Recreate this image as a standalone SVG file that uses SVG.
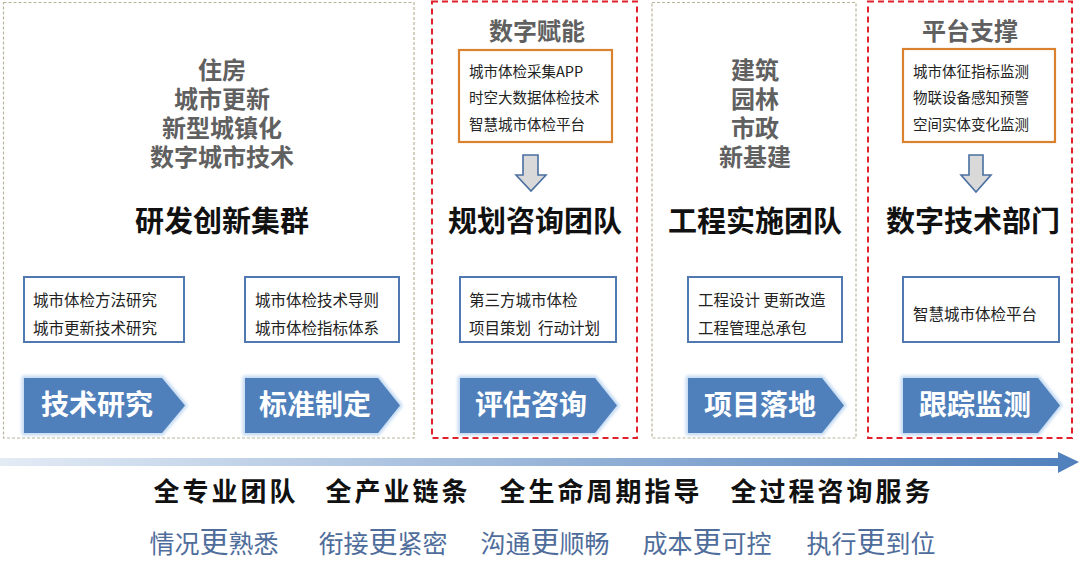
<svg xmlns="http://www.w3.org/2000/svg" width="1080" height="576" viewBox="0 0 1080 576">
<defs>
<style>
text{font-family:"Noto Sans CJK SC","Noto Sans",sans-serif}
.beige{fill:none;stroke:#b9b59a;stroke-width:1.2;stroke-dasharray:3 2}
.red{fill:none;stroke:#e0202a;stroke-width:2;stroke-dasharray:6 4}
.topic{font-size:24px;font-weight:700;fill:#606060;text-anchor:middle}
.head{font-size:29px;font-weight:700;fill:#111;text-anchor:middle}
.bbox{fill:#fff;stroke:#4f79b0;stroke-width:2}
.obox{fill:#fff;stroke:#d9812f;stroke-width:2.2}
.small{font-size:15.5px;fill:#222}
.osmall{font-size:14.5px;fill:#222}
.arr{fill:#4f80bc}
.glow{fill:#a9c8ec;stroke:#c5dbf3;stroke-width:5;stroke-linejoin:round;filter:url(#blur)}
.atext{font-size:28px;font-weight:700;fill:#fff;text-anchor:middle}
.down{fill:#d9d9d9;stroke:#4a6fa0;stroke-width:1.6;stroke-linejoin:miter}
.big{font-size:26px;font-weight:700;fill:#111;text-anchor:middle;letter-spacing:3px}
.blue{font-size:25px;fill:#4f6d9b;text-anchor:middle}
.blue .g{font-size:29px}
</style>
<filter id="blur" x="-10%" y="-20%" width="120%" height="140%"><feGaussianBlur stdDeviation="1.8"/></filter>
<linearGradient id="grad" x1="0" y1="0" x2="1" y2="0">
<stop offset="0" stop-color="#e3ebf5"/>
<stop offset="1" stop-color="#4f80bc"/>
</linearGradient>
</defs>
<rect width="1080" height="576" fill="#fff"/>

<g id="panel-rd">
<rect class="beige" x="3.5" y="2.5" width="410.5" height="435.5"/>
<text class="topic"><tspan x="222" y="79">住房</tspan><tspan x="222" y="108">城市更新</tspan><tspan x="222" y="137">新型城镇化</tspan><tspan x="222" y="166">数字城市技术</tspan></text>
<text class="head" x="222" y="232">研发创新集群</text>
<g id="box-research">
<rect class="bbox" x="24" y="277" width="160" height="65"/>
<text class="small" x="33" y="306">城市体检方法研究</text>
<text class="small" x="33" y="334">城市更新技术研究</text>
</g>
<g id="box-standard">
<rect class="bbox" x="245" y="277" width="154" height="65"/>
<text class="small" x="255" y="306">城市体检技术导则</text>
<text class="small" x="255" y="334">城市体检指标体系</text>
</g>
<g id="step-research">
<path class="glow" d="M24,378 H162 L185,405.5 L162,433 H24 Z"/>
<path class="arr" d="M24,378 H162 L185,405.5 L162,433 H24 Z"/>
<text class="atext" x="97" y="415">技术研究</text>
</g>
<g id="step-standard">
<path class="glow" d="M245,378 H378 L400,405.5 L378,433 H245 Z"/>
<path class="arr" d="M245,378 H378 L400,405.5 L378,433 H245 Z"/>
<text class="atext" x="315" y="415">标准制定</text>
</g>
</g>

<g id="panel-planning">
<rect class="red" x="432" y="1.5" width="205" height="436.5"/>
<text class="topic" x="537" y="40">数字赋能</text>
<rect class="obox" x="459" y="50" width="153" height="92"/>
<text class="osmall" x="469" y="77">城市体检采集APP</text>
<text class="osmall" x="469" y="103">时空大数据体检技术</text>
<text class="osmall" x="469" y="130">智慧城市体检平台</text>
<path class="down" d="M523,155 H538 V175 H546 L531,191 L516,175 H523 Z"/>
<text class="head" x="535" y="232">规划咨询团队</text>
<g id="box-assess">
<rect class="bbox" x="460" y="277" width="156" height="65"/>
<text class="small" x="469" y="306">第三方城市体检</text>
<text class="small" x="469" y="334" xml:space="preserve">项目策划  行动计划</text>
</g>
<g id="step-assess">
<path class="glow" d="M460,378 H595 L617,405.5 L595,433 H460 Z"/>
<path class="arr" d="M460,378 H595 L617,405.5 L595,433 H460 Z"/>
<text class="atext" x="531" y="415">评估咨询</text>
</g>
</g>

<g id="panel-engineering">
<rect class="beige" x="652" y="2.5" width="204" height="435.5"/>
<text class="topic"><tspan x="755" y="79">建筑</tspan><tspan x="755" y="108">园林</tspan><tspan x="755" y="137">市政</tspan><tspan x="755" y="166">新基建</tspan></text>
<text class="head" x="755" y="232">工程实施团队</text>
<g id="box-build">
<rect class="bbox" x="688" y="277" width="154" height="65"/>
<text class="small" x="698" y="306">工程设计 更新改造</text>
<text class="small" x="698" y="334">工程管理总承包</text>
</g>
<g id="step-build">
<path class="glow" d="M688,378 H822 L844,405.5 L822,433 H688 Z"/>
<path class="arr" d="M688,378 H822 L844,405.5 L822,433 H688 Z"/>
<text class="atext" x="760" y="415">项目落地</text>
</g>
</g>

<g id="panel-digital">
<rect class="red" x="868" y="1.5" width="204" height="436.5"/>
<text class="topic" x="970" y="40">平台支撑</text>
<rect class="obox" x="903" y="49" width="152" height="93"/>
<text class="osmall" x="913" y="77">城市体征指标监测</text>
<text class="osmall" x="913" y="103">物联设备感知预警</text>
<text class="osmall" x="913" y="130">空间实体变化监测</text>
<path class="down" d="M969,155 H983 V175 H991 L976,192 L961,175 H969 Z"/>
<text class="head" x="973" y="232">数字技术部门</text>
<g id="box-platform">
<rect class="bbox" x="903" y="277" width="156" height="65"/>
<text class="small" x="913" y="320">智慧城市体检平台</text>
</g>
<g id="step-monitor">
<path class="glow" d="M903,378 H1038 L1060,405.5 L1038,433 H903 Z"/>
<path class="arr" d="M903,378 H1038 L1060,405.5 L1038,433 H903 Z"/>
<text class="atext" x="975" y="415">跟踪监测</text>
</g>
</g>

<g id="connectors">
<path d="M0,458 H1058 V452 L1079,462 L1058,473 V466 H0 Z" fill="url(#grad)"/>
</g>

<g id="slogans">
<text class="big" x="226" y="501">全专业团队</text>
<text class="big" x="398" y="501">全产业链条</text>
<text class="big" x="601" y="501">全生命周期指导</text>
<text class="big" x="832" y="501">全过程咨询服务</text>
<text class="blue" x="214" y="553">情况<tspan class="g">更</tspan>熟悉</text>
<text class="blue" x="383" y="553">衔接<tspan class="g">更</tspan>紧密</text>
<text class="blue" x="545" y="553">沟通<tspan class="g">更</tspan>顺畅</text>
<text class="blue" x="707" y="553">成本<tspan class="g">更</tspan>可控</text>
<text class="blue" x="871" y="553">执行<tspan class="g">更</tspan>到位</text>
</g>
</svg>
